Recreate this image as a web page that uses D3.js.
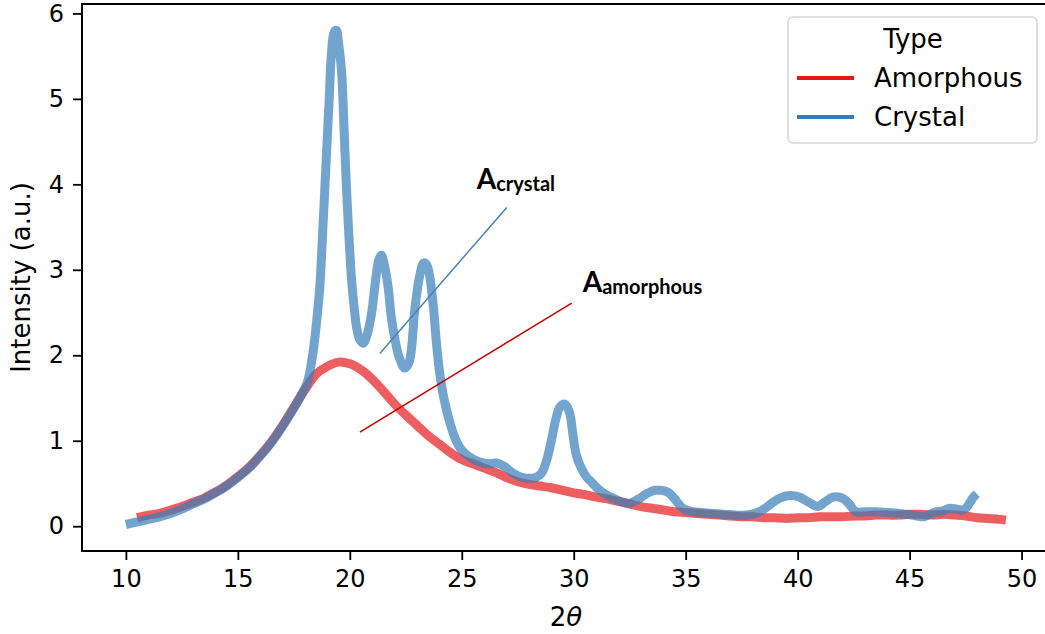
<!DOCTYPE html>
<html>
<head>
<meta charset="utf-8">
<script src="https://cdn.jsdelivr.net/npm/d3@7"></script>
<style>
  body { margin: 0; background: #fff; }
  svg text { font-family: "DejaVu Sans", sans-serif; }
  .axis path, .axis line { stroke: #000; }
  .axis text { font-size: 24px; fill: #000; font-family: "DejaVu Sans", sans-serif; }
</style>
</head>
<body>
<div id="chart"></div>
<script>
// 2-theta positions and intensities
var crystalX = [10.0, 10.5, 11.0, 11.5, 12.0, 12.5, 13.0, 13.5, 14.0, 14.5, 15.0, 15.5, 16.0, 16.5, 17.0, 17.5, 17.8, 18.1,
  18.35, 18.5, 18.66, 18.8, 18.96, 19.08, 19.18, 19.3, 19.4, 19.5, 19.63, 19.75, 19.85, 19.97, 20.08, 20.2, 20.3, 20.45,
  20.6, 20.75, 20.97, 21.19, 21.3, 21.41, 21.55, 21.71, 21.85, 22.0, 22.2, 22.45, 22.65, 22.9, 23.1, 23.3, 23.45, 23.72,
  23.85, 24.0, 24.2, 24.46, 24.75, 25.0, 25.4, 25.8, 26.2, 26.55, 26.9, 27.3, 27.7, 28.0, 28.3, 28.56, 28.8, 29.0, 29.2,
  29.375, 29.6, 29.82, 29.95, 30.1, 30.3, 30.56, 30.85, 31.16, 31.5, 31.76, 32.1, 32.5, 32.9, 33.25, 33.6, 33.84, 34.1,
  34.3, 34.6, 34.87, 35.3, 35.7, 36.2, 36.7, 37.2, 37.7, 38.1, 38.44, 38.9, 39.2, 39.64, 40.1, 40.5, 40.9, 41.2, 41.56,
  42.0, 42.3, 42.6, 43.0, 43.5, 44.0, 44.55, 45.1, 45.6, 45.9, 46.2, 46.5, 46.8, 47.1, 47.37, 47.55, 47.7, 47.85, 48.0];
var crystalY = [0.02, 0.05, 0.08, 0.11, 0.15, 0.2, 0.26, 0.32, 0.39, 0.47, 0.57, 0.68, 0.82, 0.98, 1.17, 1.38, 1.52, 1.68,
  2.02, 2.35, 2.8, 3.5, 4.36, 5.0, 5.53, 5.78, 5.8, 5.65, 5.33, 4.6, 3.97, 3.35, 2.88, 2.55, 2.33, 2.18,
  2.14, 2.22, 2.49, 2.96, 3.12, 3.17, 3.05, 2.8, 2.45, 2.21, 1.98, 1.85, 1.92, 2.53, 2.9, 3.08, 3.05, 2.6,
  2.2, 1.82, 1.5, 1.22, 1.0, 0.89, 0.8, 0.75, 0.73, 0.74, 0.7, 0.62, 0.57, 0.56, 0.57, 0.62, 0.78, 1.0, 1.25,
  1.39, 1.43, 1.32, 1.1, 0.85, 0.7, 0.58, 0.5, 0.42, 0.36, 0.33, 0.29, 0.27, 0.32, 0.38, 0.42, 0.42, 0.41,
  0.38, 0.29, 0.21, 0.17, 0.16, 0.15, 0.14, 0.13, 0.13, 0.15, 0.19, 0.28, 0.33, 0.36, 0.34, 0.28, 0.23, 0.28, 0.34,
  0.33, 0.26, 0.17, 0.17, 0.17, 0.16, 0.15, 0.13, 0.11, 0.14, 0.17, 0.18, 0.21, 0.2, 0.19, 0.22, 0.28, 0.34, 0.38];

var amorphousX = [10.5, 11.0, 11.5, 12.0, 12.5, 13.0, 13.5, 14.0, 14.5, 15.0, 15.5, 16.0, 16.5, 17.0, 17.5, 18.0, 18.5,
  19.0, 19.5, 20.0, 20.5, 21.0, 21.5, 22.0, 22.5, 23.0, 23.5, 24.0, 24.5, 25.0, 25.5, 26.0, 26.5, 27.0, 27.5, 28.0,
  28.5, 29.0, 29.5, 30.0, 30.5, 31.0, 31.5, 32.0, 32.5, 33.0, 33.5, 34.0, 34.5, 35.0, 35.5, 36.0, 36.5, 37.0, 37.5,
  38.0, 38.5, 39.0, 39.5, 40.0, 40.5, 41.0, 41.5, 42.0, 42.5, 43.0, 43.5, 44.0, 44.5, 45.0, 45.5, 46.0, 46.5, 47.0,
  47.5, 48.0, 48.5, 49.0, 49.3];
var amorphousY = [0.1, 0.13, 0.15, 0.19, 0.23, 0.28, 0.33, 0.4, 0.48, 0.58, 0.69, 0.83, 0.99, 1.18, 1.39, 1.6, 1.78,
  1.87, 1.92, 1.9, 1.83, 1.72, 1.58, 1.43, 1.3, 1.18, 1.06, 0.96, 0.86, 0.78, 0.73, 0.68, 0.63, 0.57, 0.52, 0.49,
  0.47, 0.45, 0.42, 0.39, 0.37, 0.34, 0.32, 0.29, 0.26, 0.23, 0.21, 0.19, 0.17, 0.16, 0.15, 0.14, 0.13, 0.12, 0.11,
  0.11, 0.1, 0.1, 0.09, 0.1, 0.1, 0.11, 0.11, 0.11, 0.12, 0.12, 0.13, 0.13, 0.13, 0.14, 0.14, 0.13, 0.14, 0.13,
  0.12, 0.1, 0.09, 0.08, 0.07];

var xTicks = [10, 15, 20, 25, 30, 35, 40, 45, 50];
var yTicks = [0, 1, 2, 3, 4, 5, 6];
var seriesNames = ['Amorphous', 'Crystal'];
var seriesColors = ['#e41a1c', '#377eb8'];

// annotation leader lines and label anchors, in data units
var crystalNote = { label: 'crystal', x1: 21.34, y1: 2.02, x2: 27.01, y2: 3.73, tx: 25.67, ty: 3.94 };
var amorphousNote = { label: 'amorphous', x1: 20.45, y1: 1.10, x2: 29.91, y2: 2.61, tx: 30.4, ty: 2.74 };

var w = 1045, h = 634;
var padLeft = 82, padRight = 1050, padTop = 4, padBottom = 551;

var svg = d3.select('#chart').append('svg')
  .attr('width', w)
  .attr('height', h);

var xscale = d3.scaleLinear().domain([8.04, 51.27]).range([padLeft, padRight]);
var yscale = d3.scaleLinear().domain([-0.29, 6.11]).range([padBottom, padTop]);

var line = d3.line()
  .x(function(d) { return xscale(d[0]); })
  .y(function(d) { return yscale(d[1]); })
  .curve(d3.curveCatmullRom.alpha(0.5));

var amorphousData = d3.zip(amorphousX, amorphousY);
var crystalData = d3.zip(crystalX, crystalY);

svg.append('path').datum(amorphousData)
  .attr('d', line)
  .attr('fill', 'none')
  .attr('stroke', seriesColors[0])
  .attr('stroke-opacity', 0.7)
  .attr('stroke-width', 9)
  .attr('stroke-linejoin', 'round');

svg.append('path').datum(crystalData)
  .attr('d', line)
  .attr('fill', 'none')
  .attr('stroke', seriesColors[1])
  .attr('stroke-opacity', 0.7)
  .attr('stroke-width', 9)
  .attr('stroke-linejoin', 'round');

// axes
var xaxis = d3.axisBottom(xscale).tickValues(xTicks).tickFormat(d3.format('d'))
  .tickSize(9).tickPadding(10).tickSizeOuter(0);
var yaxis = d3.axisLeft(yscale).tickValues(yTicks).tickFormat(d3.format('d'))
  .tickSize(9).tickPadding(9).tickSizeOuter(0);

svg.append('g').attr('class', 'axis x')
  .attr('transform', 'translate(0,' + padBottom + ')')
  .call(xaxis)
  .call(function(g) { g.selectAll('line').attr('stroke-width', 1.8); g.select('.domain').remove(); });

svg.append('g').attr('class', 'axis y')
  .attr('transform', 'translate(' + padLeft + ',0)')
  .call(yaxis)
  .call(function(g) { g.selectAll('line').attr('stroke-width', 1.8); g.select('.domain').remove(); });

// frame
svg.append('rect')
  .attr('x', padLeft).attr('y', padTop)
  .attr('width', padRight - padLeft).attr('height', padBottom - padTop)
  .attr('fill', 'none').attr('stroke', '#000').attr('stroke-width', 2);

// axis labels
var xl = svg.append('text')
  .attr('x', (padLeft + padRight) / 2).attr('y', 626)
  .attr('text-anchor', 'middle')
  .style('font-size', '26px');
xl.append('tspan').text('2');
xl.append('tspan').style('font-style', 'italic').text('θ');

svg.append('text')
  .attr('transform', 'translate(30,' + ((padTop + padBottom) / 2) + ') rotate(-90)')
  .attr('text-anchor', 'middle')
  .style('font-size', '26px')
  .text('Intensity (a.u.)');

// annotations
function note(n, color) {
  svg.append('line')
    .attr('x1', xscale(n.x1)).attr('y1', yscale(n.y1))
    .attr('x2', xscale(n.x2)).attr('y2', yscale(n.y2))
    .attr('stroke', color).attr('stroke-width', 1.5);
  var t = svg.append('text')
    .attr('x', xscale(n.tx)).attr('y', yscale(n.ty))
    .style('font-family', 'Lato, "Open Sans", sans-serif')
    .style('font-weight', 700);
  t.append('tspan').style('font-size', '28px').text('A');
  t.append('tspan').style('font-size', '20px').attr('dy', 2).text(n.label);
}
note(crystalNote, '#4a7ebf');
note(amorphousNote, '#c00000');

// legend
var lg = svg.append('g').attr('transform', 'translate(788,17)');
lg.append('rect')
  .attr('width', 249).attr('height', 126)
  .attr('rx', 5)
  .attr('fill', '#fff').attr('fill-opacity', 0.8)
  .attr('stroke', '#d6d6d6').attr('stroke-width', 1.5);
lg.append('text')
  .attr('x', 125).attr('y', 31)
  .attr('text-anchor', 'middle')
  .style('font-size', '26px')
  .text('Type');
seriesNames.forEach(function(name, i) {
  var yy = 61 + i * 39;
  lg.append('line')
    .attr('x1', 9).attr('x2', 66)
    .attr('y1', yy).attr('y2', yy)
    .attr('stroke', seriesColors[i]).attr('stroke-width', 4);
  lg.append('text')
    .attr('x', 86).attr('y', yy + 9)
    .style('font-size', '26px')
    .text(name);
});
</script>
</body>
</html>
